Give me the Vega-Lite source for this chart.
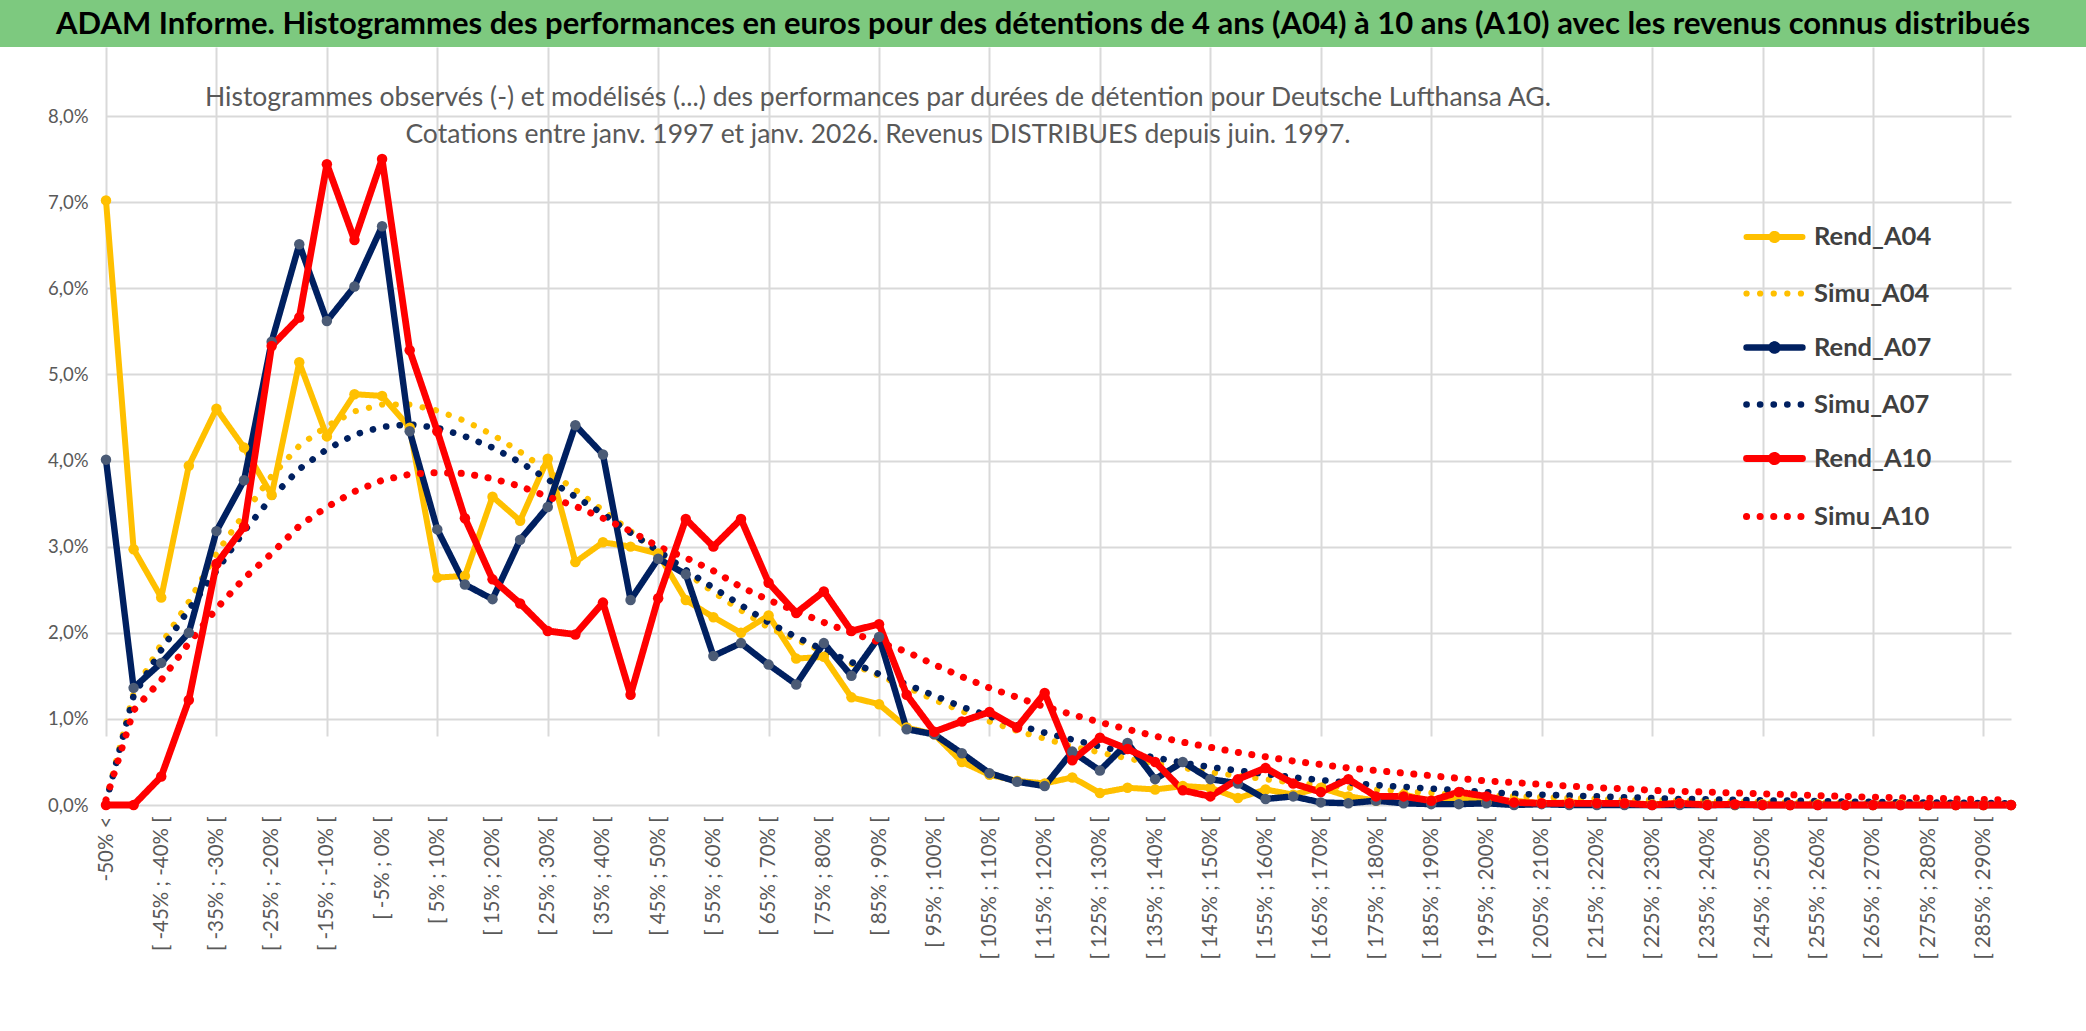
{
  "$schema": "https://vega.github.io/schema/vega-lite/v6.json",
  "padding": 0,
  "background": "white",
  "autosize": {"type": "pad"},
  "spacing": 0,
  "config": {"view": {"stroke": null}, "font": "Lato"},
  "vconcat": [
    {
      "width": 2086,
      "height": 47,
      "data": {"values": [{}]},
      "view": {"fill": "#7DC97F", "stroke": null},
      "mark": {"type": "text", "font": "Lato", "fontWeight": "bold", "fontSize": 31, "color": "black", "align": "center", "baseline": "middle", "dy": 1},
      "encoding": {"text": {"value": "ADAM Informe. Histogrammes des performances en euros pour des détentions de 4 ans (A04) à 10 ans (A10) avec les revenus connus distribués"}}
    },
    {
      "width": 2086,
      "height": 758,
      "title": {
        "text": ["Histogrammes observés (-) et modélisés (...) des performances par durées de détention pour Deutsche Lufthansa AG.", "Cotations entre janv. 1997 et janv. 2026. Revenus DISTRIBUES depuis juin. 1997."],
        "fontSize": 26.5, "font": "Lato", "fontWeight": "normal", "color": "#595959",
        "anchor": "middle", "frame": "group", "dx": -165, "offset": -101, "baseline": "top", "lineHeight": 37
      },
      "data": {"values": [
        {"c": "-50% <", "Rend_A04": 7.02, "Simu_A04": 0.05, "Rend_A07": 4.01, "Simu_A07": 0.03, "Rend_A10": 0, "Simu_A10": 0.06},
        {"c": "[ -50% ; -45% [", "Rend_A04": 2.97, "Simu_A04": 1.3, "Rend_A07": 1.36, "Simu_A07": 1.27, "Rend_A10": 0, "Simu_A10": 1.1},
        {"c": "[ -45% ; -40% [", "Rend_A04": 2.41, "Simu_A04": 1.87, "Rend_A07": 1.65, "Simu_A07": 1.8, "Rend_A10": 0.33, "Simu_A10": 1.45},
        {"c": "[ -40% ; -35% [", "Rend_A04": 3.94, "Simu_A04": 2.36, "Rend_A07": 2.0, "Simu_A07": 2.27, "Rend_A10": 1.22, "Simu_A10": 1.88},
        {"c": "[ -35% ; -30% [", "Rend_A04": 4.6, "Simu_A04": 2.92, "Rend_A07": 3.18, "Simu_A07": 2.72, "Rend_A10": 2.8, "Simu_A10": 2.28},
        {"c": "[ -30% ; -25% [", "Rend_A04": 4.15, "Simu_A04": 3.38, "Rend_A07": 3.77, "Simu_A07": 3.18, "Rend_A10": 3.23, "Simu_A10": 2.63},
        {"c": "[ -25% ; -20% [", "Rend_A04": 3.6, "Simu_A04": 3.82, "Rend_A07": 5.38, "Simu_A07": 3.57, "Rend_A10": 5.33, "Simu_A10": 2.92},
        {"c": "[ -20% ; -15% [", "Rend_A04": 5.14, "Simu_A04": 4.17, "Rend_A07": 6.51, "Simu_A07": 3.9, "Rend_A10": 5.66, "Simu_A10": 3.24},
        {"c": "[ -15% ; -10% [", "Rend_A04": 4.28, "Simu_A04": 4.4, "Rend_A07": 5.62, "Simu_A07": 4.13, "Rend_A10": 7.44, "Simu_A10": 3.46},
        {"c": "[ -10% ; -5% [", "Rend_A04": 4.77, "Simu_A04": 4.57, "Rend_A07": 6.02, "Simu_A07": 4.3, "Rend_A10": 6.56, "Simu_A10": 3.64},
        {"c": "[ -5% ; 0% [", "Rend_A04": 4.75, "Simu_A04": 4.65, "Rend_A07": 6.72, "Simu_A07": 4.39, "Rend_A10": 7.5, "Simu_A10": 3.77},
        {"c": "[ 0% ; 5% [", "Rend_A04": 4.38, "Simu_A04": 4.65, "Rend_A07": 4.34, "Simu_A07": 4.42, "Rend_A10": 5.28, "Simu_A10": 3.84},
        {"c": "[ 5% ; 10% [", "Rend_A04": 2.64, "Simu_A04": 4.58, "Rend_A07": 3.2, "Simu_A07": 4.38, "Rend_A10": 4.34, "Simu_A10": 3.86},
        {"c": "[ 10% ; 15% [", "Rend_A04": 2.66, "Simu_A04": 4.46, "Rend_A07": 2.56, "Simu_A07": 4.28, "Rend_A10": 3.33, "Simu_A10": 3.85},
        {"c": "[ 15% ; 20% [", "Rend_A04": 3.58, "Simu_A04": 4.3, "Rend_A07": 2.39, "Simu_A07": 4.15, "Rend_A10": 2.62, "Simu_A10": 3.79},
        {"c": "[ 20% ; 25% [", "Rend_A04": 3.3, "Simu_A04": 4.1, "Rend_A07": 3.08, "Simu_A07": 3.98, "Rend_A10": 2.34, "Simu_A10": 3.7},
        {"c": "[ 25% ; 30% [", "Rend_A04": 4.02, "Simu_A04": 3.88, "Rend_A07": 3.46, "Simu_A07": 3.78, "Rend_A10": 2.02, "Simu_A10": 3.58},
        {"c": "[ 30% ; 35% [", "Rend_A04": 2.82, "Simu_A04": 3.66, "Rend_A07": 4.41, "Simu_A07": 3.58, "Rend_A10": 1.98, "Simu_A10": 3.47},
        {"c": "[ 35% ; 40% [", "Rend_A04": 3.05, "Simu_A04": 3.42, "Rend_A07": 4.07, "Simu_A07": 3.38, "Rend_A10": 2.35, "Simu_A10": 3.33},
        {"c": "[ 40% ; 45% [", "Rend_A04": 3.0, "Simu_A04": 3.18, "Rend_A07": 2.38, "Simu_A07": 3.16, "Rend_A10": 1.28, "Simu_A10": 3.18},
        {"c": "[ 45% ; 50% [", "Rend_A04": 2.92, "Simu_A04": 2.93, "Rend_A07": 2.86, "Simu_A07": 2.95, "Rend_A10": 2.4, "Simu_A10": 3.0},
        {"c": "[ 50% ; 55% [", "Rend_A04": 2.38, "Simu_A04": 2.7, "Rend_A07": 2.68, "Simu_A07": 2.73, "Rend_A10": 3.32, "Simu_A10": 2.87},
        {"c": "[ 55% ; 60% [", "Rend_A04": 2.18, "Simu_A04": 2.47, "Rend_A07": 1.73, "Simu_A07": 2.52, "Rend_A10": 3.0, "Simu_A10": 2.72},
        {"c": "[ 60% ; 65% [", "Rend_A04": 2.0, "Simu_A04": 2.26, "Rend_A07": 1.88, "Simu_A07": 2.32, "Rend_A10": 3.32, "Simu_A10": 2.53},
        {"c": "[ 65% ; 70% [", "Rend_A04": 2.2, "Simu_A04": 2.06, "Rend_A07": 1.63, "Simu_A07": 2.12, "Rend_A10": 2.58, "Simu_A10": 2.38},
        {"c": "[ 70% ; 75% [", "Rend_A04": 1.7, "Simu_A04": 1.92, "Rend_A07": 1.4, "Simu_A07": 1.95, "Rend_A10": 2.23, "Simu_A10": 2.25},
        {"c": "[ 75% ; 80% [", "Rend_A04": 1.72, "Simu_A04": 1.78, "Rend_A07": 1.88, "Simu_A07": 1.8, "Rend_A10": 2.48, "Simu_A10": 2.12},
        {"c": "[ 80% ; 85% [", "Rend_A04": 1.25, "Simu_A04": 1.64, "Rend_A07": 1.5, "Simu_A07": 1.66, "Rend_A10": 2.02, "Simu_A10": 2.0},
        {"c": "[ 85% ; 90% [", "Rend_A04": 1.17, "Simu_A04": 1.5, "Rend_A07": 1.95, "Simu_A07": 1.52, "Rend_A10": 2.1, "Simu_A10": 1.89},
        {"c": "[ 90% ; 95% [", "Rend_A04": 0.9, "Simu_A04": 1.37, "Rend_A07": 0.88, "Simu_A07": 1.4, "Rend_A10": 1.28, "Simu_A10": 1.78},
        {"c": "[ 95% ; 100% [", "Rend_A04": 0.82, "Simu_A04": 1.22, "Rend_A07": 0.82, "Simu_A07": 1.27, "Rend_A10": 0.85, "Simu_A10": 1.63},
        {"c": "[ 100% ; 105% [", "Rend_A04": 0.5, "Simu_A04": 1.09, "Rend_A07": 0.6, "Simu_A07": 1.14, "Rend_A10": 0.97, "Simu_A10": 1.49},
        {"c": "[ 105% ; 110% [", "Rend_A04": 0.35, "Simu_A04": 0.97, "Rend_A07": 0.37, "Simu_A07": 1.03, "Rend_A10": 1.08, "Simu_A10": 1.36},
        {"c": "[ 110% ; 115% [", "Rend_A04": 0.28, "Simu_A04": 0.86, "Rend_A07": 0.27, "Simu_A07": 0.93, "Rend_A10": 0.9, "Simu_A10": 1.25},
        {"c": "[ 115% ; 120% [", "Rend_A04": 0.25, "Simu_A04": 0.77, "Rend_A07": 0.22, "Simu_A07": 0.84, "Rend_A10": 1.3, "Simu_A10": 1.14},
        {"c": "[ 120% ; 125% [", "Rend_A04": 0.32, "Simu_A04": 0.68, "Rend_A07": 0.62, "Simu_A07": 0.76, "Rend_A10": 0.52, "Simu_A10": 1.05},
        {"c": "[ 125% ; 130% [", "Rend_A04": 0.14, "Simu_A04": 0.61, "Rend_A07": 0.4, "Simu_A07": 0.68, "Rend_A10": 0.78, "Simu_A10": 0.96},
        {"c": "[ 130% ; 135% [", "Rend_A04": 0.2, "Simu_A04": 0.54, "Rend_A07": 0.72, "Simu_A07": 0.61, "Rend_A10": 0.65, "Simu_A10": 0.88},
        {"c": "[ 135% ; 140% [", "Rend_A04": 0.18, "Simu_A04": 0.48, "Rend_A07": 0.3, "Simu_A07": 0.55, "Rend_A10": 0.5, "Simu_A10": 0.8},
        {"c": "[ 140% ; 145% [", "Rend_A04": 0.22, "Simu_A04": 0.43, "Rend_A07": 0.5, "Simu_A07": 0.49, "Rend_A10": 0.17, "Simu_A10": 0.73},
        {"c": "[ 145% ; 150% [", "Rend_A04": 0.2, "Simu_A04": 0.38, "Rend_A07": 0.3, "Simu_A07": 0.44, "Rend_A10": 0.1, "Simu_A10": 0.67},
        {"c": "[ 150% ; 155% [", "Rend_A04": 0.08, "Simu_A04": 0.34, "Rend_A07": 0.25, "Simu_A07": 0.4, "Rend_A10": 0.3, "Simu_A10": 0.61},
        {"c": "[ 155% ; 160% [", "Rend_A04": 0.18, "Simu_A04": 0.3, "Rend_A07": 0.07, "Simu_A07": 0.36, "Rend_A10": 0.43, "Simu_A10": 0.56},
        {"c": "[ 160% ; 165% [", "Rend_A04": 0.12, "Simu_A04": 0.26, "Rend_A07": 0.1, "Simu_A07": 0.32, "Rend_A10": 0.25, "Simu_A10": 0.51},
        {"c": "[ 165% ; 170% [", "Rend_A04": 0.2, "Simu_A04": 0.23, "Rend_A07": 0.03, "Simu_A07": 0.29, "Rend_A10": 0.15, "Simu_A10": 0.47},
        {"c": "[ 170% ; 175% [", "Rend_A04": 0.1, "Simu_A04": 0.2, "Rend_A07": 0.02, "Simu_A07": 0.26, "Rend_A10": 0.3, "Simu_A10": 0.43},
        {"c": "[ 175% ; 180% [", "Rend_A04": 0.05, "Simu_A04": 0.18, "Rend_A07": 0.05, "Simu_A07": 0.23, "Rend_A10": 0.1, "Simu_A10": 0.4},
        {"c": "[ 180% ; 185% [", "Rend_A04": 0.12, "Simu_A04": 0.16, "Rend_A07": 0.02, "Simu_A07": 0.21, "Rend_A10": 0.1, "Simu_A10": 0.37},
        {"c": "[ 185% ; 190% [", "Rend_A04": 0.05, "Simu_A04": 0.14, "Rend_A07": 0.01, "Simu_A07": 0.19, "Rend_A10": 0.05, "Simu_A10": 0.34},
        {"c": "[ 190% ; 195% [", "Rend_A04": 0.08, "Simu_A04": 0.12, "Rend_A07": 0.01, "Simu_A07": 0.17, "Rend_A10": 0.15, "Simu_A10": 0.31},
        {"c": "[ 195% ; 200% [", "Rend_A04": 0.03, "Simu_A04": 0.11, "Rend_A07": 0.02, "Simu_A07": 0.15, "Rend_A10": 0.1, "Simu_A10": 0.28},
        {"c": "[ 200% ; 205% [", "Rend_A04": 0.05, "Simu_A04": 0.1, "Rend_A07": 0, "Simu_A07": 0.13, "Rend_A10": 0.03, "Simu_A10": 0.26},
        {"c": "[ 205% ; 210% [", "Rend_A04": 0.02, "Simu_A04": 0.09, "Rend_A07": 0.01, "Simu_A07": 0.12, "Rend_A10": 0.02, "Simu_A10": 0.24},
        {"c": "[ 210% ; 215% [", "Rend_A04": 0.03, "Simu_A04": 0.08, "Rend_A07": 0, "Simu_A07": 0.11, "Rend_A10": 0.02, "Simu_A10": 0.22},
        {"c": "[ 215% ; 220% [", "Rend_A04": 0.02, "Simu_A04": 0.07, "Rend_A07": 0, "Simu_A07": 0.1, "Rend_A10": 0.02, "Simu_A10": 0.2},
        {"c": "[ 220% ; 225% [", "Rend_A04": 0.02, "Simu_A04": 0.06, "Rend_A07": 0, "Simu_A07": 0.09, "Rend_A10": 0.02, "Simu_A10": 0.19},
        {"c": "[ 225% ; 230% [", "Rend_A04": 0.01, "Simu_A04": 0.055, "Rend_A07": 0, "Simu_A07": 0.08, "Rend_A10": 0, "Simu_A10": 0.17},
        {"c": "[ 230% ; 235% [", "Rend_A04": 0.02, "Simu_A04": 0.05, "Rend_A07": 0, "Simu_A07": 0.07, "Rend_A10": 0.02, "Simu_A10": 0.16},
        {"c": "[ 235% ; 240% [", "Rend_A04": 0.01, "Simu_A04": 0.045, "Rend_A07": 0, "Simu_A07": 0.065, "Rend_A10": 0, "Simu_A10": 0.15},
        {"c": "[ 240% ; 245% [", "Rend_A04": 0, "Simu_A04": 0.04, "Rend_A07": 0, "Simu_A07": 0.06, "Rend_A10": 0.01, "Simu_A10": 0.14},
        {"c": "[ 245% ; 250% [", "Rend_A04": 0.01, "Simu_A04": 0.035, "Rend_A07": 0, "Simu_A07": 0.055, "Rend_A10": 0, "Simu_A10": 0.13},
        {"c": "[ 250% ; 255% [", "Rend_A04": 0, "Simu_A04": 0.03, "Rend_A07": 0, "Simu_A07": 0.05, "Rend_A10": 0, "Simu_A10": 0.12},
        {"c": "[ 255% ; 260% [", "Rend_A04": 0.01, "Simu_A04": 0.028, "Rend_A07": 0, "Simu_A07": 0.045, "Rend_A10": 0, "Simu_A10": 0.11},
        {"c": "[ 260% ; 265% [", "Rend_A04": 0, "Simu_A04": 0.025, "Rend_A07": 0, "Simu_A07": 0.04, "Rend_A10": 0, "Simu_A10": 0.1},
        {"c": "[ 265% ; 270% [", "Rend_A04": 0, "Simu_A04": 0.022, "Rend_A07": 0, "Simu_A07": 0.036, "Rend_A10": 0, "Simu_A10": 0.09},
        {"c": "[ 270% ; 275% [", "Rend_A04": 0.01, "Simu_A04": 0.02, "Rend_A07": 0, "Simu_A07": 0.032, "Rend_A10": 0, "Simu_A10": 0.085},
        {"c": "[ 275% ; 280% [", "Rend_A04": 0, "Simu_A04": 0.018, "Rend_A07": 0, "Simu_A07": 0.029, "Rend_A10": 0, "Simu_A10": 0.08},
        {"c": "[ 280% ; 285% [", "Rend_A04": 0, "Simu_A04": 0.016, "Rend_A07": 0, "Simu_A07": 0.026, "Rend_A10": 0, "Simu_A10": 0.07},
        {"c": "[ 285% ; 290% [", "Rend_A04": 0, "Simu_A04": 0.014, "Rend_A07": 0, "Simu_A07": 0.023, "Rend_A10": 0, "Simu_A10": 0.065},
        {"c": "[ 290% ; 295% [", "Rend_A04": 0, "Simu_A04": 0.012, "Rend_A07": 0, "Simu_A07": 0.02, "Rend_A10": 0, "Simu_A10": 0.06}
      ]},
      "transform": [{"fold": ["Rend_A04", "Simu_A04", "Rend_A07", "Simu_A07", "Rend_A10", "Simu_A10"], "as": ["serie", "v"]}],
      "encoding": {
        "x": {
          "field": "c", "type": "nominal", "sort": null,
          "scale": {"type": "point", "range": [106, 2011], "padding": 0},
          "axis": {
            "title": null, "labelAngle": -90, "labelFontSize": 20.5, "labelColor": "#595959", "labelPadding": 11,
            "labelOverlap": false, "labelLimit": 400, "ticks": false, "domain": false,
            "labelExpr": "test(/^\\[ -?\\d*5%/, datum.label) || datum.label == '-50% <' ? datum.label : ''",
            "grid": true, "gridColor": "#D9D9D9", "gridWidth": 2,
            "gridOpacity": {"condition": {"test": "datum.value == '-50% <' || test(/^\\[ (-[13]5|(\\d*[02468])?5)%/, datum.value)", "value": 1}, "value": 0}
          }
        },
        "y": {
          "field": "v", "type": "quantitative",
          "scale": {"domain": [0, 8], "range": [758, 69], "nice": false},
          "axis": {
            "title": null, "offset": -106, "values": [0, 1, 2, 3, 4, 5, 6, 7, 8],
            "labelExpr": "replace(format(datum.value, '.1f'), '.', ',') + '%'",
            "labelFontSize": 18.5, "labelColor": "#595959", "labelPadding": 18,
            "ticks": false, "domain": false, "grid": true, "gridColor": "#D9D9D9", "gridWidth": 2
          }
        }
      },
      "layer": [
        {
          "mark": {"type": "line", "strokeCap": "round", "strokeJoin": "round"},
          "encoding": {
            "color": {
              "field": "serie", "type": "nominal",
              "scale": {"domain": ["Rend_A04", "Simu_A04", "Rend_A07", "Simu_A07", "Rend_A10", "Simu_A10"], "range": ["#FFC000", "#FFC000", "#002060", "#002060", "#FF0000", "#FF0000"]},
              "legend": {"title": null, "orient": "none", "legendX": 1743, "legendY": 206, "padding": 0, "symbolType": "stroke", "symbolSize": 3136, "symbolStrokeWidth": 5.5, "labelFontSize": 25.5, "labelFontWeight": "bold", "labelColor": "#404040", "rowPadding": 9, "labelOffset": 8,
                "encoding": {"symbols": {"strokeCap": {"value": "round"}, "shape": {"condition": {"test": "indexof(datum.value, 'Rend') == 0", "value": "M-1,0L1,0M0.11,0A0.11,0.11,0,1,1,-0.11,0A0.11,0.11,0,1,1,0.11,0"}, "value": "stroke"}}}}
            },
            "strokeDash": {
              "field": "serie", "type": "nominal",
              "scale": {"domain": ["Rend_A04", "Simu_A04", "Rend_A07", "Simu_A07", "Rend_A10", "Simu_A10"], "range": [[1, 0], [0.1, 13.5], [1, 0], [0.1, 13.5], [1, 0], [0.1, 13.5]]},
              "legend": {"title": null, "orient": "none", "legendX": 1743, "legendY": 206, "padding": 0, "symbolType": "stroke", "symbolSize": 3136, "symbolStrokeWidth": 5.5, "labelFontSize": 25.5, "labelFontWeight": "bold", "labelColor": "#404040", "rowPadding": 9, "labelOffset": 8,
                "encoding": {"symbols": {"strokeCap": {"value": "round"}, "shape": {"condition": {"test": "indexof(datum.value, 'Rend') == 0", "value": "M-1,0L1,0M0.11,0A0.11,0.11,0,1,1,-0.11,0A0.11,0.11,0,1,1,0.11,0"}, "value": "stroke"}}}}
            },
            "strokeWidth": {
              "field": "serie", "type": "nominal",
              "scale": {"domain": ["Rend_A04", "Simu_A04", "Rend_A07", "Simu_A07", "Rend_A10", "Simu_A10"], "range": [6, 7, 6, 7, 6, 7]},
              "legend": null
            }
          }
        },
        {
          "mark": {"type": "point", "filled": true, "opacity": 1, "size": 110, "strokeWidth": 0},
          "encoding": {
            "fill": {
              "field": "serie", "type": "nominal",
              "scale": {"domain": ["Rend_A04", "Simu_A04", "Rend_A07", "Simu_A07", "Rend_A10", "Simu_A10"], "range": ["#FFC000", "transparent", "#4B5B76", "transparent", "#FF0000", "transparent"]},
              "legend": null
            }
          }
        }
      ]
    }
  ]
}
